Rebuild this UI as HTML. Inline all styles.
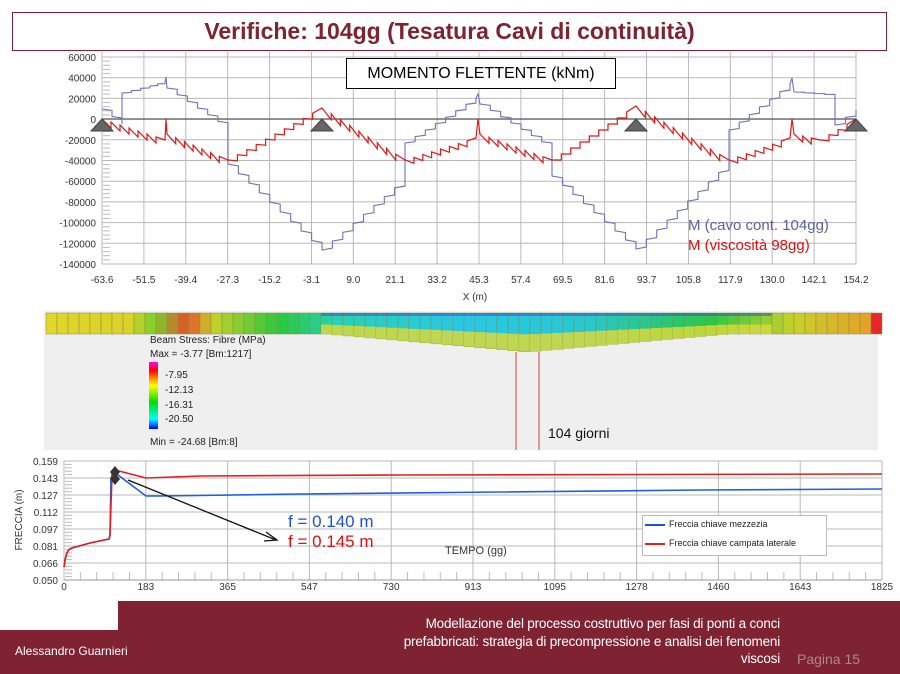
<!DOCTYPE html>
<html><head><meta charset="utf-8"><style>
body{margin:0;width:900px;height:674px;background:#fff;position:relative;overflow:hidden;font-family:"Liberation Sans",sans-serif}
.abs{position:absolute}
</style></head><body>
<div class="abs" style="left:12px;top:12px;width:873px;height:37px;border:1px solid #7f2232;color:#7f2232;font-weight:bold;font-size:23px;text-align:center;line-height:37px">Verifiche: 104gg (Tesatura Cavi di continuità)</div>

<svg class="abs" style="left:0;top:0" width="900" height="674" id="sv">
<g id="g1" stroke="#b8b8b8" stroke-width="1" fill="none"></g>
<rect x="44" y="311" width="834" height="139" fill="#efefef"/>
<g id="beam"></g>
<line x1="516" y1="352" x2="516" y2="450" stroke="#d04040"/>
<line x1="539" y1="352" x2="539" y2="450" stroke="#d04040"/>
<defs><linearGradient id="lg" x1="0" y1="0" x2="0" y2="1">
<stop offset="0" stop-color="#ff00ff"/><stop offset="0.12" stop-color="#ff0000"/><stop offset="0.35" stop-color="#ffff00"/><stop offset="0.6" stop-color="#00dd00"/><stop offset="0.85" stop-color="#00ffff"/><stop offset="1" stop-color="#0000ff"/></linearGradient></defs>
<rect x="149" y="362" width="9" height="67" fill="url(#lg)"/>
<g font-size="10" fill="#222">
<text x="150" y="343">Beam Stress: Fibre (MPa)</text>
<text x="150" y="357">Max = -3.77 [Bm:1217]</text>
<text x="165" y="378">-7.95</text><text x="165" y="393">-12.13</text><text x="165" y="408">-16.31</text><text x="165" y="422">-20.50</text>
<text x="150" y="445">Min = -24.68 [Bm:8]</text>
</g>
<text x="548" y="438" font-size="14" fill="#111">104 giorni</text>
<g id="g2" stroke="#b8b8b8" stroke-width="1" fill="none"></g>
</svg>

<div class="abs" style="left:346px;top:58px;width:268px;height:29px;border:1px solid #000;background:#fff;font-size:16px;text-align:center;line-height:29px">MOMENTO FLETTENTE (kNm)</div>
<div class="abs" style="left:688px;top:217px;font-size:15px;color:#5e5ea8">M (cavo cont. 104gg)</div>
<div class="abs" style="left:688px;top:237px;font-size:15px;color:#e01010">M (viscosità 98gg)</div>
<div class="abs" style="left:288px;top:512px;font-size:17px;color:#1f4fe0">f = 0.140 m</div>
<div class="abs" style="left:288px;top:532px;font-size:17px;color:#e01010">f = 0.145 m</div>
<div class="abs" style="left:642px;top:515px;width:183px;height:39px;border:1px solid #bbb;background:#fff;font-size:9px;color:#222">
<div style="position:absolute;left:2px;top:8px;width:20px;border-top:2px solid #1f4fe0"></div><div style="position:absolute;left:26px;top:3px">Freccia chiave mezzezia</div>
<div style="position:absolute;left:2px;top:27px;width:20px;border-top:2px solid #e02020"></div><div style="position:absolute;left:26px;top:22px">Freccia chiave campata laterale</div>
</div>

<div class="abs" style="left:118px;top:601px;width:782px;height:73px;background:#7f2232"></div>
<div class="abs" style="left:0;top:630px;width:118px;height:44px;background:#7f2232"></div>
<div class="abs" style="left:15px;top:644px;font-size:12px;color:#fff">Alessandro Guarnieri</div>
<div class="abs" style="left:280px;top:615px;width:500px;font-size:13.5px;color:#fff;text-align:right;line-height:17.5px;letter-spacing:-0.2px">Modellazione del processo costruttivo per fasi di ponti a conci<br>prefabbricati: strategia di precompressione e analisi dei fenomeni<br>viscosi</div>
<div class="abs" style="left:797px;top:651px;font-size:14px;color:#a88">Pagina 15</div>

<script>
const NS="http://www.w3.org/2000/svg";const sv=document.getElementById('sv');
function el(t,a,p){const e=document.createElementNS(NS,t);for(const k in a)e.setAttribute(k,a[k]);(p||sv).appendChild(e);return e}
function tx(x,y,s,a,fs,col,p){const e=el('text',{x:x,y:y,'font-size':fs||10,'text-anchor':a||'middle',fill:col||'#333'},p);e.textContent=s;return e}
const g1=document.getElementById('g1');
const L=102,R=856,T=57,B=264;
for(let i=0;i<=10;i++){const y=T+i*(B-T)/10;el('line',{x1:L,y1:y,x2:R,y2:y},g1);tx(96,y+4,String(60000-i*20000),'end',10);
 for(let k=1;k<5&&i<10;k++){const yy=y+k*(B-T)/50;el('line',{x1:L+1,y1:yy,x2:L+8,y2:yy,stroke:'#bbb'});}}
const xl=['-63.6','-51.5','-39.4','-27.3','-15.2','-3.1','9.0','21.1','33.2','45.3','57.4','69.5','81.6','93.7','105.8','117.9','130.0','142.1','154.2'];
xl.forEach((s,i)=>{const x=L+i*(R-L)/18;el('line',{x1:x,y1:T-5,x2:x,y2:B},g1);tx(x,283,s,'middle',10);});
tx(475,300,'X (m)','middle',10);
el('line',{x1:L,y1:119,x2:R,y2:119,stroke:'#555','stroke-width':1.2});
function saw(pts,tooth,amp,dir){let d='M'+pts[0][0]+','+pts[0][1];
 for(let i=1;i<pts.length;i++){const [x0,y0]=pts[i-1],[x1,y1]=pts[i];if(x1===x0){d+=' L'+x1+','+y1;continue;}
  const n=Math.max(1,Math.round(Math.abs(x1-x0)/tooth));for(let k=1;k<=n;k++){const x=x0+(x1-x0)*k/n,y=y0+(y1-y0)*k/n;
   if(k<n&&amp){d+=' L'+x.toFixed(1)+','+(y+amp*dir).toFixed(1)+' L'+x.toFixed(1)+','+y.toFixed(1);}else d+=' L'+x.toFixed(1)+','+y.toFixed(1);}}
 return d}
function stair(pts,w){const out=[pts[0]];
 for(let i=1;i<pts.length;i++){const [x0,y0]=pts[i-1],[x1,y1]=pts[i];if(Math.abs(x1-x0)<3){out.push([x1,y1]);continue;}
  const n=Math.max(1,Math.round(Math.abs(x1-x0)/w));for(let k=1;k<=n;k++){const x=x0+(x1-x0)*k/n,y=y0+(y1-y0)*k/n;
   const py=out[out.length-1][1];out.push([x,py+(y-py)*0.2]);out.push([x,y]);}}
 return 'M'+out.map(p=>p[0].toFixed(1)+','+p[1].toFixed(1)).join(' L')}
const blue=[[102,109],[122,124],[122,93],[150,86],[165,82],[166,77],[167,88],[228,128],[228,164],[322,250],[405,179],[405,143],[476,98],[478,94],[480,104],[552,148],[552,176],[636,249],[729,163],[729,130],[790,84],[792,78],[794,92],[835,95],[835,125],[856,110]];
el('path',{d:stair(blue,10),stroke:'#7070b8',fill:'none','stroke-width':1.1});
const red=[[102,119],[165,140],[166,119],[167,134],[228,160],[322,108],[405,160],[476,138],[478,119],[480,134],[552,160],[636,106],[729,160],[790,138],[792,119],[794,134],[820,140],[856,119]];
el('path',{d:saw(red,9,6,1),stroke:'#e01818',fill:'none','stroke-width':1.2});
[102,322,636,856].forEach(x=>el('polygon',{points:`${x},119 ${x-11},131 ${x+11},131`,fill:'#666',stroke:'#444'}));
const beam=document.getElementById('beam');
function depth(x){const c=527;const d=Math.abs(x-c);return d<200?352-(d/200)*18:334;}
function col(x){const t=(x-46)/830;
 const stops=[[0,[225,215,40]],[0.1,[220,210,40]],[0.13,[120,210,40]],[0.17,[230,80,40]],[0.2,[200,210,40]],[0.28,[40,200,60]],[0.35,[40,210,180]],[0.5,[40,200,230]],[0.65,[40,200,210]],[0.8,[40,200,70]],[0.9,[200,210,40]],[0.99,[230,160,40]],[1,[230,40,40]]];
 for(let i=1;i<stops.length;i++){if(t<=stops[i][0]){const a=stops[i-1],b=stops[i];const f=(t-a[0])/(b[0]-a[0]);return 'rgb('+a[1].map((v,j)=>Math.round(v+(b[1][j]-v)*f)).join(',')+')';}}return 'rgb(230,40,40)'}
for(let x=46;x<876;x+=11){const d=depth(x+5);el('rect',{x:x,y:313,width:11,height:d-313,fill:col(x+5),stroke:'#8a8a50','stroke-width':0.5},beam);
 if(x>320&&x<770){el('rect',{x:x,y:313+(d-313)*0.55,width:11,height:(d-313)*0.45,fill:'#d8d83a',opacity:0.85},beam);
  el('rect',{x:x,y:313,width:11,height:3,fill:'#2050d0',opacity:0.5},beam);}}
const g2=document.getElementById('g2');const L2=64,R2=882,T2=461,B2=580;
const yl=['0.159','0.143','0.127','0.112','0.097','0.081','0.066','0.050'];
yl.forEach((s,i)=>{const y=T2+i*(B2-T2)/7;el('line',{x1:L2,y1:y,x2:R2,y2:y},g2);tx(58,y+4,s,'end',10);
 for(let k=1;k<5&&i<7;k++){const yy=y+k*(B2-T2)/35;el('line',{x1:L2+1,y1:yy,x2:L2+8,y2:yy,stroke:'#bbb'});}});
const xl2=['0','183','365','547','730','913','1095','1278','1460','1643','1825'];
xl2.forEach((s,i)=>{const x=L2+i*(R2-L2)/10;el('line',{x1:x,y1:T2,x2:x,y2:B2},g2);tx(x,590,s,'middle',10);
 for(let k=1;k<5&&i<10;k++){const xx=x+k*(R2-L2)/50;el('line',{x1:xx,y1:B2-8,x2:xx,y2:B2,stroke:'#bbb'});}});
el('line',{x1:L2,y1:B2,x2:R2,y2:B2,stroke:'#999'});
tx(445,554,'TEMPO (gg)','start',11,'#333');
const fr=tx(22,520,'FRECCIA (m)','middle',10,'#333');fr.setAttribute('transform','rotate(-90 22 520)');
el('path',{d:'M64,567 C66,552 68,549 72,548 L90,543 L109,539 L110,535 L111,478 L114,472 L146,496 L160,496 L300,494 L500,492 L700,490 L882,489',stroke:'#2060e0',fill:'none','stroke-width':1.6});
el('path',{d:'M64,567 C66,552 68,549 72,548 L90,543 L109,539 L110,535 L112,474 L115,470 L146,478 L200,476 L400,475 L882,474',stroke:'#e02020',fill:'none','stroke-width':1.6});
el('polygon',{points:'115,466 120,472 115,478 110,472',fill:'#333'});
el('polygon',{points:'115,473 120,479 115,485 110,479',fill:'#333'});
el('line',{x1:128,y1:480,x2:276,y2:540,stroke:'#111','stroke-width':1.3});
el('path',{d:'M266,532 L277,540 L264,541',stroke:'#111',fill:'none','stroke-width':1.3});
</script>
</body></html>
